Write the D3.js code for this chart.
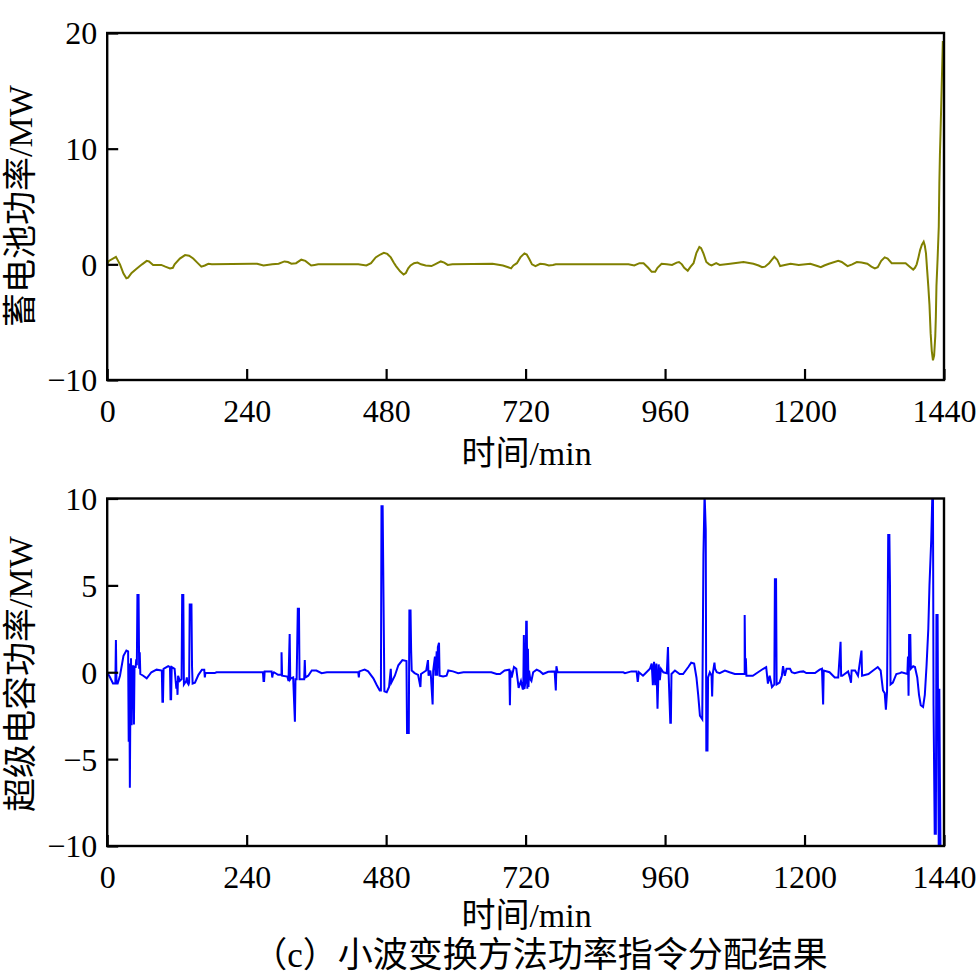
<!DOCTYPE html>
<html>
<head>
<meta charset="utf-8">
<script src="https://cdn.jsdelivr.net/npm/d3@7"></script>
<style>
  html, body { margin: 0; padding: 0; background: #fff; }
  svg { display: block; }
  text { font-family: "Liberation Serif", "Noto Sans CJK SC", serif; fill: #000; }
</style>
</head>
<body>
<svg id="chart" width="980" height="978"></svg>
<script>
// ---------------- data ----------------
const xTicks = [0, 240, 480, 720, 960, 1200, 1440];
const batteryTicks = [-10, 0, 10, 20];
const capTicks = [-10, -5, 0, 5, 10];
const xTitle = "时间/min";
const batteryTitle = "蓄电池功率/MW";
const capTitle = "超级电容功率/MW";
const caption = "（c）小波变换方法功率指令分配结果";

// battery power (min, MW)
const batteryTime = [0,3,15,22,28,33,36,42,50,60,68,72,79,93,100,108,113,116,125,134,141,148,155,162,168,174,180,250,258,269,284,295,305,311,317,325,334,341,351,357,363,432,446,454,462,470,476,482,488,493,497,504,510,514,518,522,528,534,540,548,558,564,574,580,586,594,663,681,690,695,699,705,711,718,722,727,731,737,745,753,760,767,772,897,907,916,923,931,937,943,947,954,963,972,980,984,989,993,999,1004,1009,1014,1019,1022,1026,1031,1036,1040,1048,1054,1072,1095,1112,1121,1127,1132,1139,1144,1148,1153,1158,1166,1176,1190,1210,1222,1228,1234,1242,1258,1264,1274,1282,1290,1298,1308,1315,1321,1326,1332,1338,1343,1350,1366,1374,1381,1387,1390,1393,1396,1399,1402,1405,1407,1409,1411,1413,1415,1417,1419,1421,1423,1425,1426,1427,1429,1431,1432,1433,1434,1436,1438];
const batteryPower = [0,0.3,0.65,0,-0.8,-1.2,-1.15,-0.75,-0.4,0,0.3,0.25,-0.05,-0.05,-0.2,-0.35,-0.3,0,0.5,0.8,0.75,0.5,0.15,-0.2,-0.1,0.05,0,0.05,0.05,-0.1,0,0.05,0.25,0.2,0.05,0.1,0.4,0.3,-0.1,-0.05,0,0,-0.1,0.1,0.6,0.85,1.0,0.9,0.6,0.15,-0.15,-0.6,-0.87,-0.75,-0.35,-0.1,0.1,0.15,0,-0.1,-0.15,0,0.25,0.15,-0.05,0,0.05,-0.1,-0.25,-0.35,-0.1,0.1,0.6,0.95,0.85,0.4,0,-0.15,0.05,0,-0.1,-0.05,0,0,-0.1,0.1,0.1,-0.3,-0.65,-0.65,-0.3,0.05,0,-0.05,0.15,0.2,0,-0.3,-0.55,-0.2,0.1,1.0,1.5,1.4,0.95,0.2,0,-0.1,0.1,-0.05,0.05,0.2,0.05,-0.1,-0.25,-0.2,0.1,0.4,0.65,0.4,-0.15,-0.05,0.05,-0.05,0.05,-0.15,-0.25,-0.1,0.05,0.3,0.2,-0.15,0,0.2,0.15,0.05,-0.2,-0.35,-0.25,0.3,0.6,0.5,0.1,0.1,0.1,-0.2,-0.45,-0.3,0,0.6,1.25,1.7,1.95,1.6,0.95,-0.5,-1.9,-3.5,-5.95,-7.5,-8.3,-7.9,-6.2,-4.5,-1.9,0.5,3.25,7,9.5,11.3,15.3,19.3];

// super-capacitor power (min, MW)
const capTime = [0,5,10,14,15,16,18,22,28,33,36,37,38,39,40,41,42,43,44,45,46,47,49,50,51,52,54,55,56,57,62,68,76,85,94,95,96,97,105,108,109,110,111,116,119,120,121,122,125,128,129,131,132,136,137,138,140,141,142,145,146,147,151,157,163,167,168,169,185,188,268,269,270,271,283,284,285,287,294,300,300,301,310,312,314,315,316,320,323,324,326,328,330,331,339,340,341,346,352,360,369,378,432,433,434,443,449,458,464,469,471,472,474,476,477,481,485,488,489,495,501,508,515,516,519,520,522,523,524,529,535,539,540,549,552,553,556,557,560,561,564,565,567,568,569,571,572,578,584,587,595,604,613,661,670,676,684,692,693,694,696,700,704,708,712,715,716,717,718,720,721,722,723,724,725,726,728,730,733,739,745,750,759,770,772,773,775,888,891,902,911,913,915,922,925,934,937,939,941,943,945,946,947,949,951,953,957,963,965,966,969,970,971,977,985,991,1000,1005,1010,1014,1017,1020,1024,1026,1028,1030,1031,1033,1034,1037,1040,1041,1042,1045,1046,1049,1054,1063,1071,1080,1089,1097,1097,1098,1099,1100,1111,1120,1129,1134,1137,1140,1144,1148,1149,1151,1152,1157,1161,1163,1166,1169,1175,1178,1183,1192,1198,1203,1218,1226,1230,1232,1233,1243,1252,1258,1262,1263,1265,1275,1278,1280,1281,1287,1292,1298,1299,1310,1318,1326,1331,1335,1338,1340,1342,1344,1346,1347,1348,1352,1358,1364,1367,1377,1378,1379,1380,1382,1383,1387,1390,1394,1397,1400,1404,1407,1410,1413,1415,1418,1420,1421,1422,1424,1426,1427,1429,1430,1431,1432,1433,1434];
const capPower = [0,-0.3,-0.65,-0.65,1.85,-0.65,-0.65,-0.2,0.95,1.25,1.2,-4.0,0.5,-6.65,-1.15,0.8,-3.05,0.4,-2.0,0.4,-3.0,0.3,0.3,0.75,0.4,4.45,4.45,0.2,1.15,-0.1,-0.2,-0.35,0,0.15,0.1,-1.7,-1.7,0.2,0.35,0.3,-1.55,-1.55,0.3,0.2,-0.95,-0.5,-1.3,-0.2,-0.5,-0.4,4.45,4.45,-0.7,-0.5,-0.3,-0.6,-0.7,-0.6,3.9,3.9,0.3,-0.65,-0.6,-0.15,0.15,0.15,-0.3,-0.05,-0.05,0,0,-0.5,-0.5,0.05,0.05,-0.3,-0.1,0,-0.15,-0.15,1.15,-0.2,-0.25,-0.5,2.2,-0.4,-0.35,-0.3,-2.85,-0.4,-0.4,3.65,3.65,-0.4,-0.4,0.7,-0.3,-0.2,0.1,0.1,-0.05,0,0,-0.3,0.05,0.15,0.05,-0.35,-0.75,-1.05,-1.05,9.55,9.55,2.4,-1.1,-1.15,-0.85,0.2,-0.6,-0.2,0.4,0.7,0.65,-3.5,-3.5,3.55,3.55,1.3,0.1,-0.05,-0.15,-0.85,-0.1,0.1,0.7,-0.2,0.1,-0.2,-1.85,0.1,0.9,-0.2,1.2,-0.2,1.45,1.7,-0.2,-0.25,-0.2,0.1,0.05,-0.05,0,0,-0.1,-0.1,0.1,0.15,-1.9,0.1,-0.3,0.3,0.2,-0.9,-0.5,-0.95,-0.95,2.15,-0.95,-0.5,2.9,2.9,-0.95,1.35,-0.85,0.1,-0.4,-0.5,0,0.15,0.05,-0.1,0.03,0.05,-1.05,0.35,0,0,-0.05,0.05,0.05,-0.55,0,-0.2,-0.1,0.2,0.5,-0.75,0.6,-0.75,0.5,-0.75,-2.1,0.45,-0.45,0.2,0,-0.05,1.45,0,-2.9,-2.9,-0.1,0.1,-0.1,-0.1,0.3,0.55,0.5,-0.3,-1.3,-2.5,-2.7,6.75,10.3,8.2,-4.5,-4.5,-0.3,0,-0.2,-1.4,-0.1,0.55,0.2,0,-0.05,0.1,0,-0.1,-0.1,-0.1,3.3,-0.15,0.8,-0.2,-0.2,0,0.2,0.3,-0.65,-0.2,-0.85,-0.7,5.35,5.35,-0.7,-0.6,-0.2,0.35,-0.2,0.2,0.2,0,-0.05,0.03,0.05,-0.05,-0.05,0.15,0.2,-1.85,0.1,0,-0.3,-0.3,1.75,-0.2,-0.2,0.05,-0.3,-0.6,0.1,0.1,-0.2,1.25,-0.2,-0.1,0.1,0.3,0.1,-1.05,-1.2,-2.15,-1.1,7.9,7.9,5.2,-0.7,-0.6,-0.1,-0.05,0,-0.1,0.9,-1.35,2.15,2.15,0.2,0.35,0.3,-0.3,-1.3,-1.9,-2.0,-1.3,0.4,2.5,5.0,7.6,10.3,10.3,-1.9,-9.3,-9.3,3.3,3.3,-4.8,-10.5,-0.95,-6.1,-10.5];

// ---------------- drawing ----------------
const svg = d3.select("#chart");
const FONT_TICK = 32, FONT_TITLE = 34;

function panel(cfg) {
  const x = d3.scaleLinear().domain([0, 1440]).range([cfg.left, cfg.right]);
  const y = d3.scaleLinear().domain(cfg.yDomain).range([cfg.bottom, cfg.top]);
  const g = svg.append("g");

  const clipId = "clip" + cfg.id;
  svg.append("clipPath").attr("id", clipId).append("rect")
    .attr("x", cfg.left).attr("y", cfg.top)
    .attr("width", cfg.right - cfg.left).attr("height", cfg.bottom - cfg.top);

  const pts = cfg.times.map((t, i) => [t, cfg.values[i]]);
  g.append("path")
    .datum(pts)
    .attr("clip-path", `url(#${clipId})`)
    .attr("fill", "none")
    .attr("stroke", cfg.color)
    .attr("stroke-width", 2)
    .attr("stroke-linejoin", "miter")
    .attr("d", d3.line().x(d => x(d[0])).y(d => y(d[1])));

  // axes with inward ticks
  const xAxis = d3.axisBottom(x).tickValues(xTicks).tickSize(-11).tickPadding(20).tickFormat(d3.format("d"));
  const yAxis = d3.axisLeft(y).tickValues(cfg.yTicks).tickSize(-11).tickPadding(10)
    .tickFormat(d => d < 0 ? "\u2212" + Math.abs(d) : String(d));

  const gx = g.append("g").attr("transform", `translate(0,${cfg.bottom})`).call(xAxis);
  const gy = g.append("g").attr("transform", `translate(${cfg.left},0)`).call(yAxis);
  [gx, gy].forEach(a => {
    a.select(".domain").remove();
    a.selectAll(".tick line").attr("stroke", "#000").attr("stroke-width", 2.2);
    a.selectAll(".tick text").attr("font-size", FONT_TICK)
      .attr("font-family", "'Liberation Serif', serif").attr("fill", "#000");
  });
  gx.selectAll(".tick text").attr("dy", "0.69em");
  gy.selectAll(".tick text").attr("dy", "0.34em");

  // frame
  g.append("rect")
    .attr("x", cfg.left).attr("y", cfg.top)
    .attr("width", cfg.right - cfg.left).attr("height", cfg.bottom - cfg.top)
    .attr("fill", "none").attr("stroke", "#000").attr("stroke-width", 2.4);

  // x title
  g.append("text")
    .attr("x", (cfg.left + cfg.right) / 2 + 1).attr("y", cfg.xTitleY)
    .attr("text-anchor", "middle").attr("font-size", FONT_TITLE)
    .text(xTitle);

  // y title
  g.append("text")
    .attr("transform", `translate(${cfg.yTitleX},${cfg.yTitleCY}) rotate(-90)`)
    .attr("text-anchor", "middle").attr("font-size", FONT_TITLE)
    .text(cfg.yTitle);
}

panel({
  id: "a", left: 107.2, right: 944, top: 33, bottom: 380,
  yDomain: [-10, 20], yTicks: batteryTicks,
  times: batteryTime, values: batteryPower, color: "#808000",
  xTitleY: 465, yTitle: batteryTitle, yTitleX: 32, yTitleCY: 206
});

panel({
  id: "b", left: 107.2, right: 944, top: 498.5, bottom: 846,
  yDomain: [-10, 10], yTicks: capTicks,
  times: capTime, values: capPower, color: "#0000ff",
  xTitleY: 927, yTitle: capTitle, yTitleX: 32, yTitleCY: 674
});

svg.append("text")
  .attr("x", 540).attr("y", 967)
  .attr("text-anchor", "middle").attr("font-size", 35)
  .text(caption);
</script>
</body>
</html>
